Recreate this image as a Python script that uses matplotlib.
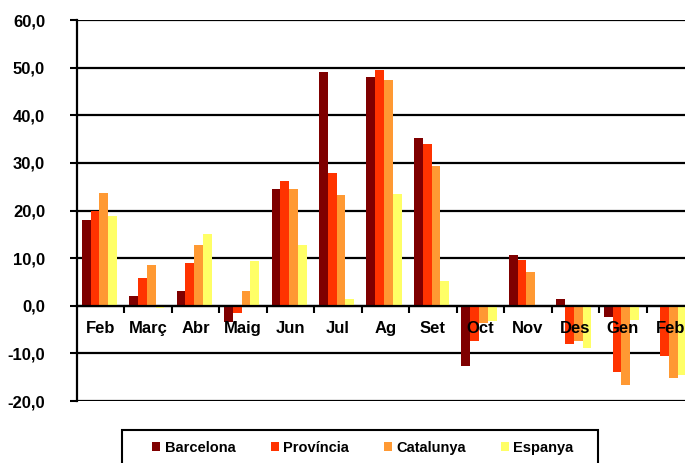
import numpy as np
import matplotlib
matplotlib.use('Agg')
import matplotlib.pyplot as plt
from matplotlib.patches import Patch, Rectangle

# --- DADES ---
mesos = ['Feb', 'Març', 'Abr', 'Maig', 'Jun', 'Jul', 'Ag', 'Set',
         'Oct', 'Nov', 'Des', 'Gen', 'Feb']
barcelona = [18.0, 2.0, 3.2, -3.5, 24.5, 49.0, 48.1, 35.2, -12.7, 10.6, 1.4, -2.3, 0.0]
provincia = [19.8, 5.8, 8.9, -1.5, 26.1, 27.9, 49.4, 34.0, -7.5, 9.7, -8.0, -14.0, -10.6]
catalunya = [23.7, 8.5, 12.7, 3.2, 24.5, 23.2, 47.3, 29.3, -3.6, 7.1, -7.5, -16.6, -15.2]
espanya = [18.9, -0.4, 15.0, 9.4, 12.8, 1.5, 23.5, 5.1, -3.2, -0.3, -8.9, -3.0, -14.6]

series = [barcelona, provincia, catalunya, espanya]
noms = ['Barcelona', 'Província', 'Catalunya', 'Espanya']
colors = ['#7f0000', '#ff3300', '#ff9933', '#ffff66']

yticks = np.arange(-20, 61, 10)

plt.rcParams['font.family'] = ['Liberation Sans', 'DejaVu Sans']
plt.rcParams['font.weight'] = 'bold'

fig = plt.figure(figsize=(6.85, 4.63), dpi=100)
ax = fig.add_axes([0.1124, 0.1339, 0.9007, 0.8229])

# barres
n = len(mesos)
amp = 0.185
x = np.arange(n)
for k, (vals, col) in enumerate(zip(series, colors)):
    ax.bar(x + 0.1 + k * amp, vals, width=amp, align='edge',
           color=col, zorder=2, linewidth=0)

ax.set_xlim(0, n)
ax.set_ylim(-20, 60)

# eix Y i reixeta
ax.set_yticks(yticks)
ax.set_yticklabels([f'{v:.1f}'.replace('.', ',') for v in yticks],
                   fontsize=12, fontweight='bold')
ax.yaxis.grid(True, color='black', linewidth=1.6)
ax.yaxis.set_zorder(0.5)
ax.tick_params(axis='y', length=5, width=1.5, pad=18)

# eix X al zero
ax.spines['bottom'].set_position(('data', 0))
ax.spines['bottom'].set_linewidth(1.6)
ax.spines['left'].set_linewidth(1.6)
ax.spines['top'].set_visible(False)
ax.spines['right'].set_visible(False)
ax.set_xticks(np.arange(1, n))
ax.set_xticklabels([])
ax.set_xticks(x + 0.5, minor=True)
ax.set_xticklabels(mesos, minor=True, fontsize=12, fontweight='bold')
ax.tick_params(axis='x', which='major', length=5, width=1.5, direction='out')
ax.tick_params(axis='x', which='minor', length=0, pad=11)
ax.xaxis.set_zorder(5)

# llegenda (el marc es dibuixa a part)
handles = [Patch(facecolor=c, edgecolor='none') for c in colors]
fig.legend(handles, noms, loc='center', ncol=4,
           bbox_to_anchor=(363 / 685, 1 - 448 / 463),
           frameon=False, prop={'size': 10.5, 'weight': 'bold'},
           handlelength=0.55, handleheight=0.55, handletextpad=0.3,
           columnspacing=2.4, borderpad=0, borderaxespad=0)
fig.patches.append(Rectangle((122 / 685, -0.1), 476 / 685, 0.1 + 1 - 430 / 463,
                             transform=fig.transFigure, fill=False,
                             edgecolor='black', linewidth=1.5))

fig.savefig('out.png', dpi=100)
